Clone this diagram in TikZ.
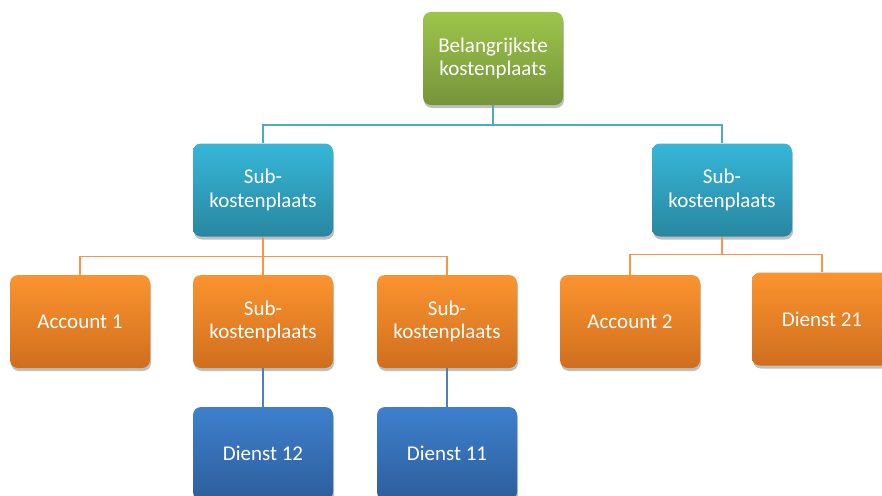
\documentclass[tikz,border=0pt]{standalone}
\usepackage{fontspec}
\setmainfont{Carlito}
\usetikzlibrary{shadows,calc}
\definecolor{gtop}{HTML}{9CC54B}
\definecolor{gbot}{HTML}{76943A}
\definecolor{btop}{HTML}{37B6D8}
\definecolor{bbot}{HTML}{2887A1}
\definecolor{otop}{HTML}{FB942F}
\definecolor{obot}{HTML}{D06E1D}
\definecolor{dtop}{HTML}{3E80CE}
\definecolor{dbot}{HTML}{2D5E9C}
\definecolor{lblue}{HTML}{4BACC6}
\definecolor{lorange}{HTML}{F79646}
\definecolor{ldblue}{HTML}{4F81BD}
\tikzset{
  box/.style={rounded corners=8pt, minimum width=140pt, minimum height=93pt,
    text=white, align=center, font=\fontsize{21}{23.5}\selectfont, inner sep=0pt,
    drop shadow={shadow xshift=1pt, shadow yshift=-3pt, opacity=0.25, fill=black}},
  gbox/.style={box, top color=gtop, bottom color=gbot},
  bbox/.style={box, top color=btop, bottom color=bbot},
  obox/.style={box, top color=otop, bottom color=obot},
  dbox/.style={box, top color=dtop, bottom color=dbot},
  conn/.style={line width=1.5pt}
}
\begin{document}
\begin{tikzpicture}[x=1pt,y=-1pt]
\useasboundingbox (0,0) rectangle (882,495);
\node[gbox] (top) at (493,58.5) {Belangrijkste\\kostenplaats};
\node[bbox] (subL) at (263,190) {Sub-\\kostenplaats};
\node[bbox] (subR) at (722,190) {Sub-\\kostenplaats};
\node[obox] (acc1) at (80,321.5) {Account 1};
\node[obox] (subM) at (263,321.5) {Sub-\\kostenplaats};
\node[obox] (subT) at (447,321.5) {Sub-\\kostenplaats};
\node[obox] (acc2) at (630,321.5) {Account 2};
\node[obox] (d21) at (822,319) {Dienst 21};
\node[dbox] (d12) at (263,453.5) {Dienst 12};
\node[dbox] (d11) at (447,453.5) {Dienst 11};
% connectors
\draw[conn, lblue] (top.south) -- ++(0,20) -| (subL.north);
\draw[conn, lblue] (top.south) ++(0,20) -| (subR.north);
\draw[conn, lorange] (subL.south) -- ++(0,20) -| (acc1.north);
\draw[conn, lorange] (subL.south) -- ++(0,20) -| (subM.north);
\draw[conn, lorange] (subL.south) ++(0,20) -| (subT.north);
\draw[conn, lorange] (subR.south) -- ++(0,18) -| (acc2.north);
\draw[conn, lorange] (subR.south) ++(0,18) -| (d21.north);
\draw[conn, ldblue] (subM.south) -- (d12.north);
\draw[conn, ldblue] (subT.south) -- (d11.north);
\end{tikzpicture}
\end{document}
